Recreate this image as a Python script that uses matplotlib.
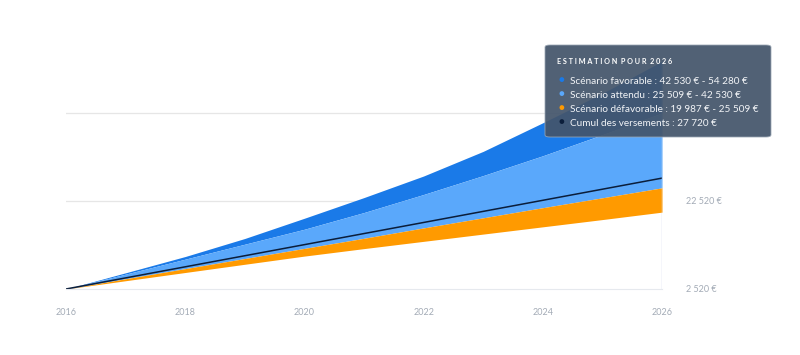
import matplotlib.pyplot as plt
from matplotlib.patches import FancyBboxPatch

plt.rcParams['font.family'] = ['Lato', 'DejaVu Sans']

# données
annees = [2016, 2017, 2018, 2019, 2020, 2021, 2022, 2023, 2024, 2025, 2026]
favorable = [2520, 6200, 9900, 14000, 18600, 23300, 28200, 33800, 40300, 47000, 54280]
attendu = [2520, 5900, 9300, 12700, 16100, 19900, 24000, 28300, 32800, 37600, 42530]
defavorable_haut = [2520, 4850, 7150, 9450, 11750, 14050, 16400, 18700, 21000, 23250, 25509]
defavorable_bas = [2520, 4400, 6270, 8140, 10000, 11700, 13350, 15000, 16650, 18300, 19987]
cumul = [2520, 5040, 7560, 10080, 12600, 15120, 17640, 20160, 22680, 25200, 27720]

yticks = [2520, 22520, 42520]
ytick_labels = ["2 520 €", "22 520 €"]  # le 42 520 € est caché par l'infobulle
xticks = [2016, 2018, 2020, 2022, 2024, 2026]

legende = [
    ("#1a7ae8", "Scénario favorable : 42 530 € - 54 280 €"),
    ("#5aa8fb", "Scénario attendu : 25 509 € - 42 530 €"),
    ("#ff9a00", "Scénario défavorable : 19 987 € - 25 509 €"),
    ("#0b1e3b", "Cumul des versements : 27 720 €"),
]

fig = plt.figure(figsize=(8, 3.55), dpi=100)
ax = fig.add_axes([66 / 800, 66 / 355, 596 / 800, 264 / 355])

ax.fill_between(annees, attendu, favorable, color="#1a7ae8", lw=0)
ax.fill_between(annees, defavorable_haut, attendu, color="#5aa8fb", lw=0)
ax.fill_between(annees, defavorable_bas, defavorable_haut, color="#ff9a00", lw=0)
ax.plot(annees, cumul, color="#0b1e3b", lw=1.1)

ax.set_xlim(2016, 2026)
ax.set_ylim(2520, 62520)

for y in yticks[1:]:
    ax.axhline(y, color="#e6e6e6", lw=0.9, zorder=0)
# ligne du survol sur la dernière année
ax.vlines(annees[-1], yticks[0], favorable[-1], color="#ccd6eb", lw=1, zorder=3)

for s in ax.spines.values():
    s.set_visible(False)
ax.spines["bottom"].set_visible(True)
ax.spines["bottom"].set_color("#e6e9ee")

ax.set_xticks(xticks)
ax.set_xticklabels([str(x) for x in xticks], color="#a3abb6", fontsize=6.5)
ax.tick_params(axis="x", length=0, pad=14)
ax.set_yticks([])

for y, lab in zip(yticks, ytick_labels):
    ax.text(2026.4, y, lab, color="#a3abb6", fontsize=6.5, va="center", ha="left")

# infobulle
box = FancyBboxPatch((545 / 800, (355 - 137) / 355), 226 / 800, 92 / 355,
                     boxstyle="round,pad=0,rounding_size=0.006",
                     transform=fig.transFigure, facecolor="#44556b", alpha=0.93,
                     edgecolor="#9aa6b4", lw=0.6, zorder=10)
fig.patches.append(box)
fig.text(557 / 800, 1 - 61 / 355, "E S T I M A T I O N   P O U R   2 0 2 6".replace("   ", "  "),
         color="white", fontsize=5.2, fontweight="bold", va="center", zorder=11)
for i, (c, t) in enumerate(legende):
    yy = 1 - (81 + 14 * i) / 355
    fig.text(561 / 800, yy, "●", color=c, fontsize=7, va="center", ha="center", zorder=11)
    fig.text(570 / 800, yy, t, color="#f2f4f7", fontsize=7.2, va="center", zorder=11)

fig.savefig("out.png", dpi=100)
